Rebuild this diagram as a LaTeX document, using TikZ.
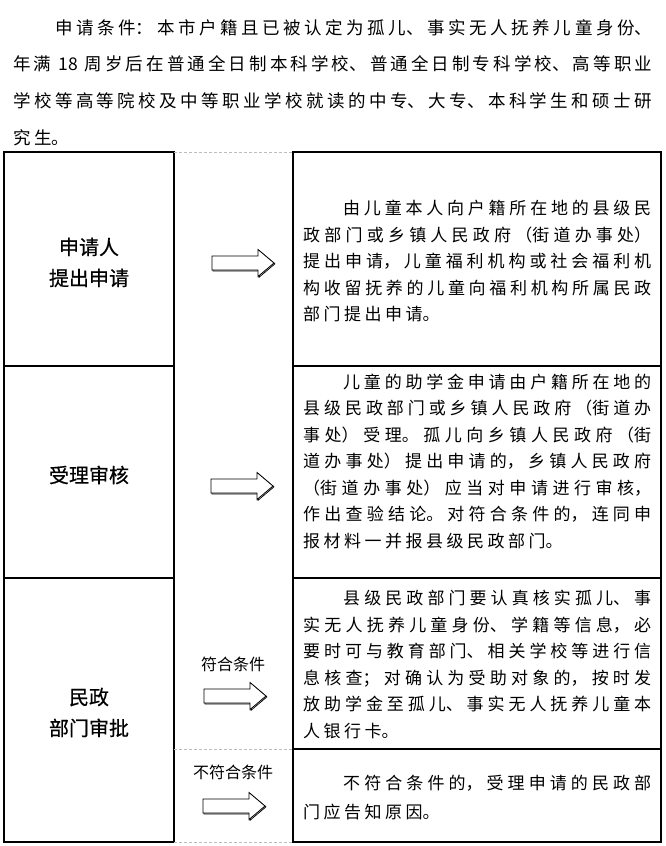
\documentclass[tikz,border=0pt]{standalone}
\usepackage{fontspec}
\setmainfont{Noto Sans CJK SC}
\XeTeXlinebreaklocale "zh"
\XeTeXlinebreakskip=3.5pt plus 6pt minus 1.2pt
\tolerance=9999
\hbadness=10000
\usetikzlibrary{positioning}
\definecolor{ink}{HTML}{000000}
\definecolor{rulegray}{HTML}{BDBDBD}
\definecolor{shade}{HTML}{9A9A9A}

\begin{document}
\begin{tikzpicture}[
  x=1pt, y=-1pt,
  cell/.style={draw=ink, line width=1.1pt, outer sep=0pt, inner sep=0pt, minimum width=170pt},
  note/.style={cell, minimum width=368pt},
  stage/.style={font=\fontsize{20}{31}\selectfont\addfontfeature{FakeBold=0.6},
                align=center, inner sep=0pt},
  body/.style={font=\fontsize{17}{26.5}\selectfont, text width=348pt, align=justify,
               inner sep=0pt, anchor=base west},
  cond/.style={font=\fontsize{16}{18}\selectfont, inner sep=0pt},
  guide/.style={draw=rulegray, line width=0.6pt, dash pattern=on 3pt off 2pt},
  blockarrow/.pic={
    \draw[shade, line width=0.7pt, shift={(0.9,0.9)}]
      (0,-7) -- (46,-7) -- (46,-13.5) -- (62,0) -- (46,13.5) -- (46,7) -- (0,7) -- cycle;
    \draw[ink, fill=white, line width=0.8pt]
      (0,-7) -- (46,-7) -- (46,-13.5) -- (62,0) -- (46,13.5) -- (46,7) -- (0,7) -- cycle;
  }
]
\useasboundingbox[fill=white] (0,0) rectangle (665,846);

% opening paragraph
\node[body, font=\fontsize{17.5}{36.7}\selectfont, text width=639pt] (req) at (13,34)
  {\hspace*{42pt}申请条件：本市户籍且已被认定为孤儿、事实无人抚养儿童身份、\linebreak
   年满\hspace{7pt}18\hspace{7pt}周岁后在普通全日制本科学校、普通全日制专科学校、高等职业\linebreak
   学校等高等院校及中等职业学校就读的中专、大专、本科学生和硕士研\linebreak
   究生。};

% left column: stages
\node[cell, minimum height=214pt, anchor=north west] (apply) at (4,152) {};
\node[cell, minimum height=212pt, below=0pt of apply] (review) {};
\node[cell, minimum height=264pt, below=0pt of review] (approve) {};

% right column: what happens
\node[note, minimum height=214pt, anchor=north west] (applynote) at (293,152) {};
\node[note, minimum height=212pt, below=0pt of applynote] (reviewnote) {};
\node[note, minimum height=171pt, below=0pt of reviewnote] (passnote) {};
\node[note, minimum height=93pt, below=0pt of passnote] (failnote) {};

\draw[guide] (apply.north east) -- (applynote.north west);
\draw[guide] (failnote.north west -| approve.east) -- (failnote.north west);
\draw[guide] (approve.south east) -- (failnote.south west);

\node[stage] (applylbl) at ([yshift=-3.5pt]apply.center) {申请人\\提出申请};
\node[stage] (reviewlbl) at ([yshift=-3pt]review.center) {受理审核};
\node[stage] (approvelbl) at ([yshift=-2.5pt]approve.center) {民政\\部门审批};

\node[body] (applytxt) at ([xshift=10pt,yshift=-62.5pt]applynote.north west)
  {\hspace*{40pt}由儿童本人向户籍所在地的县级民\linebreak
   政部门或乡镇人民政府（街道办事处）\linebreak
   提出申请，儿童福利机构或社会福利机\linebreak
   构收留抚养的儿童向福利机构所属民政\linebreak
   部门提出申请。};
\node[body] (reviewtxt) at ([xshift=10pt,yshift=-22.2pt]reviewnote.north west)
  {\hspace*{40pt}儿童的助学金申请由户籍所在地的\linebreak
   县级民政部门或乡镇人民政府（街道办\linebreak
   事处）受理。孤儿向乡镇人民政府（街\linebreak
   道办事处）提出申请的，乡镇人民政府\linebreak
   （街道办事处）应当对申请进行审核，\linebreak
   作出查验结论。对符合条件的，连同申\linebreak
   报材料一并报县级民政部门。};
\node[body] (passtxt) at ([xshift=10pt,yshift=-26.5pt]passnote.north west)
  {\hspace*{40pt}县级民政部门要认真核实孤儿、事\linebreak
   实无人抚养儿童身份、学籍等信息，必\linebreak
   要时可与教育部门、相关学校等进行信\linebreak
   息核查；对确认为受助对象的，按时发\linebreak
   放助学金至孤儿、事实无人抚养儿童本\linebreak
   人银行卡。};
\node[body, font=\fontsize{17}{29}\selectfont] (failtxt)
  at ([xshift=10pt,yshift=-40.5pt]failnote.north west)
  {\hspace*{40pt}不符合条件的，受理申请的民政部\linebreak
   门应告知原因。};

% arrows between the columns
\pic at (212,263) {blockarrow};
\pic at (211,486) {blockarrow};
\pic at (204,696) {blockarrow};
\pic at (203,806) {blockarrow};
\node[cond] (passlbl) at (233,664) {符合条件};
\node[cond] (faillbl) at (233,772) {不符合条件};
\end{tikzpicture}
\end{document}
